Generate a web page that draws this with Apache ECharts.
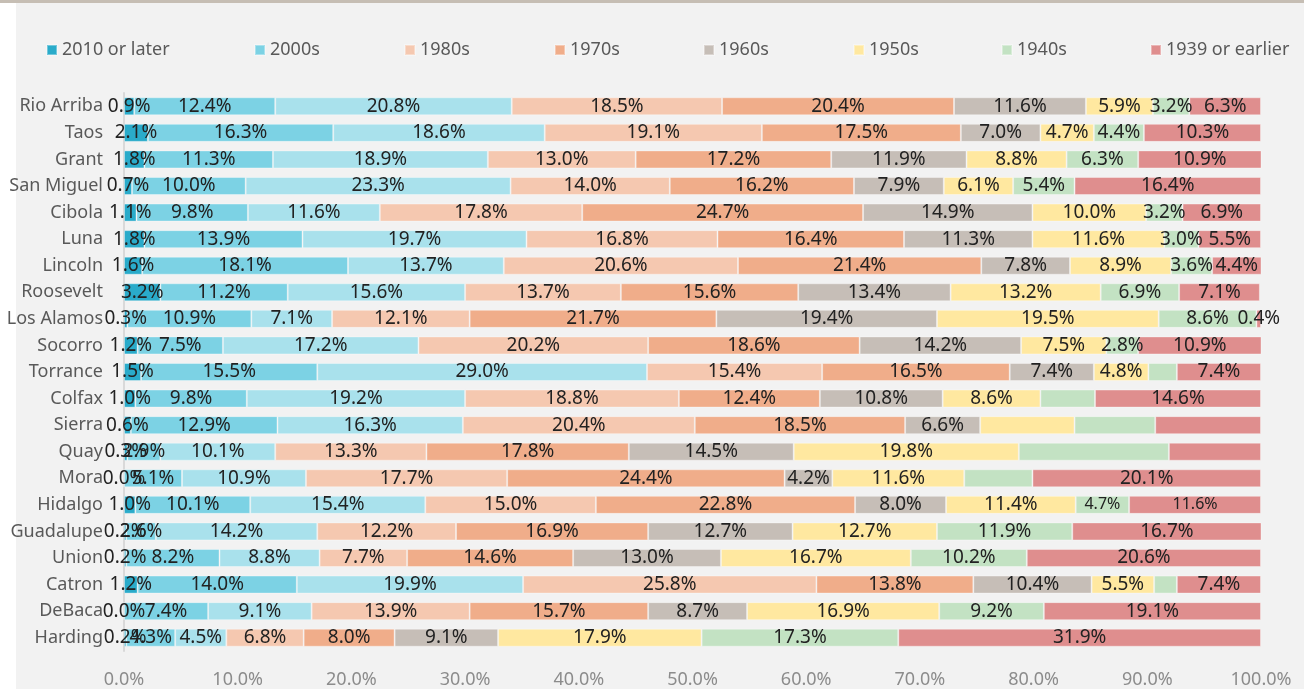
<!DOCTYPE html>
<html>
<head>
<meta charset="utf-8">
<script src="https://cdn.jsdelivr.net/npm/echarts@6/dist/echarts.min.js"></script>
<style>
  html, body { margin: 0; padding: 0; background: #f2f2f2; }
  #chart { width: 1304px; height: 689px; }
</style>
</head>
<body>
<div id="chart"></div>
<script>
var categories = ['Rio Arriba', 'Taos', 'Grant', 'San Miguel', 'Cibola', 'Luna', 'Lincoln', 'Roosevelt', 'Los Alamos', 'Socorro', 'Torrance', 'Colfax', 'Sierra', 'Quay', 'Mora', 'Hidalgo', 'Guadalupe', 'Union', 'Catron', 'DeBaca', 'Harding'];
var ticks = [0, 10, 20, 30, 40, 50, 60, 70, 80, 90, 100];

var y2010 = [0.9, 2.1, 1.8, 0.7, 1.1, 1.8, 1.6, 3.2, 0.3, 1.2, 1.5, 1.0, 0.6, 0.3, 0.0, 1.0, 0.2, 0.2, 1.2, 0.0, 0.2];
var y2000s = [12.4, 16.3, 11.3, 10.0, 9.8, 13.9, 18.1, 11.2, 10.9, 7.5, 15.5, 9.8, 12.9, 2.9, 5.1, 10.1, 2.6, 8.2, 14.0, 7.4, 4.3];
var y1990s = [20.8, 18.6, 18.9, 23.3, 11.6, 19.7, 13.7, 15.6, 7.1, 17.2, 29.0, 19.2, 16.3, 10.1, 10.9, 15.4, 14.2, 8.8, 19.9, 9.1, 4.5];
var y1980s = [18.5, 19.1, 13.0, 14.0, 17.8, 16.8, 20.6, 13.7, 12.1, 20.2, 15.4, 18.8, 20.4, 13.3, 17.7, 15.0, 12.2, 7.7, 25.8, 13.9, 6.8];
var y1970s = [20.4, 17.5, 17.2, 16.2, 24.7, 16.4, 21.4, 15.6, 21.7, 18.6, 16.5, 12.4, 18.5, 17.8, 24.4, 22.8, 16.9, 14.6, 13.8, 15.7, 8.0];
var y1960s = [11.6, 7.0, 11.9, 7.9, 14.9, 11.3, 7.8, 13.4, 19.4, 14.2, 7.4, 10.8, 6.6, 14.5, 4.2, 8.0, 12.7, 13.0, 10.4, 8.7, 9.1];
var y1950s = [5.9, 4.7, 8.8, 6.1, 10.0, 11.6, 8.9, 13.2, 19.5, 7.5, 4.8, 8.6, 8.3, 19.8, 11.6, 11.4, 12.7, 16.7, 5.5, 16.9, 17.9];
var y1940s = [3.2, 4.4, 6.3, 5.4, 3.2, 3.0, 3.6, 6.9, 8.6, 2.8, 2.5, 4.8, 7.1, 13.2, 6.0, 4.7, 11.9, 10.2, 2.0, 9.2, 17.3];
var y1939 = [6.3, 10.3, 10.9, 16.4, 6.9, 5.5, 4.4, 7.1, 0.4, 10.9, 7.4, 14.6, 9.3, 8.1, 20.1, 11.6, 16.7, 20.6, 7.4, 19.1, 31.9];

// rows whose label is not shown / shown smaller in the original
var hiddenLabels = { '1950s': [12], '1940s': [10, 11, 12, 13, 14, 18], '1939 or earlier': [12, 13] };
var smallLabels = { '1940s': [15], '1939 or earlier': [15] };

var seriesDefs = [
    { name: '2010 or later', data: y2010, color: '#2aabca' },
    { name: '2000s', data: y2000s, color: '#7cd2e4' },
    { name: '1990s', data: y1990s, color: '#a9e1ec' },
    { name: '1980s', data: y1980s, color: '#f5c8b0' },
    { name: '1970s', data: y1970s, color: '#f0ad8a' },
    { name: '1960s', data: y1960s, color: '#c6beb7' },
    { name: '1950s', data: y1950s, color: '#ffe8a0' },
    { name: '1940s', data: y1940s, color: '#c3e2c3' },
    { name: '1939 or earlier', data: y1939, color: '#df8e8e' }
];
// the original legend leaves out 1990s
var legendNames = ['2010 or later', '2000s', '1980s', '1970s', '1960s', '1950s', '1940s', '1939 or earlier'];
var legendLeft = [41, 249, 399, 549, 698, 848, 996, 1145];

var font = '"Noto Sans", "Open Sans", sans-serif';

var chart = echarts.init(document.getElementById('chart'));

var series = seriesDefs.map(function (s) {
    var hide = hiddenLabels[s.name] || [];
    var small = smallLabels[s.name] || [];
    return {
        name: s.name,
        type: 'bar',
        stack: 'total',
        barWidth: 18,
        itemStyle: { color: s.color, borderColor: 'rgba(255,255,255,0.35)', borderWidth: 1 },
        label: {
            show: true,
            position: 'inside',
            color: '#222',
            fontFamily: font,
            fontSize: 19,
            formatter: function (p) { return p.value.toFixed(1) + '%'; }
        },
        data: s.data.map(function (v, i) {
            var item = { value: v };
            if (hide.indexOf(i) >= 0) item.label = { show: false };
            if (small.indexOf(i) >= 0) item.label = { fontSize: 16 };
            return item;
        })
    };
});

var legends = legendNames.map(function (n, i) {
    return {
        top: 36,
        left: legendLeft[i],
        itemWidth: 10,
        itemHeight: 10,
        itemGap: 0,
        icon: 'rect',
        textStyle: { color: '#595959', fontSize: 18, fontFamily: font },
        data: [n]
    };
});

chart.setOption({
    backgroundColor: '#f2f2f2',
    animation: false,
    graphic: [
        { type: 'rect', shape: { x: 0, y: 0, width: 16, height: 689 }, style: { fill: '#ffffff' } },
        { type: 'rect', shape: { x: 0, y: 0, width: 1304, height: 3 }, style: { fill: '#c6beb4' } }
    ],
    legend: legends,
    grid: { left: 124, right: 43, top: 93, bottom: 37 },
    xAxis: {
        type: 'value',
        min: ticks[0],
        max: ticks[ticks.length - 1],
        interval: 10,
        splitLine: { show: false },
        axisLine: { show: false },
        axisTick: { show: false },
        axisLabel: {
            color: '#8c8c8c',
            fontSize: 18,
            fontFamily: font,
            margin: 20,
            formatter: function (v) { return v.toFixed(1) + '%'; }
        }
    },
    yAxis: {
        type: 'category',
        inverse: true,
        data: categories,
        axisLine: { show: true, lineStyle: { color: '#d9d9d9', width: 2 } },
        axisTick: { show: false },
        axisLabel: { color: '#595959', fontSize: 18, fontFamily: font, margin: 21 }
    },
    series: series
});
</script>
</body>
</html>
